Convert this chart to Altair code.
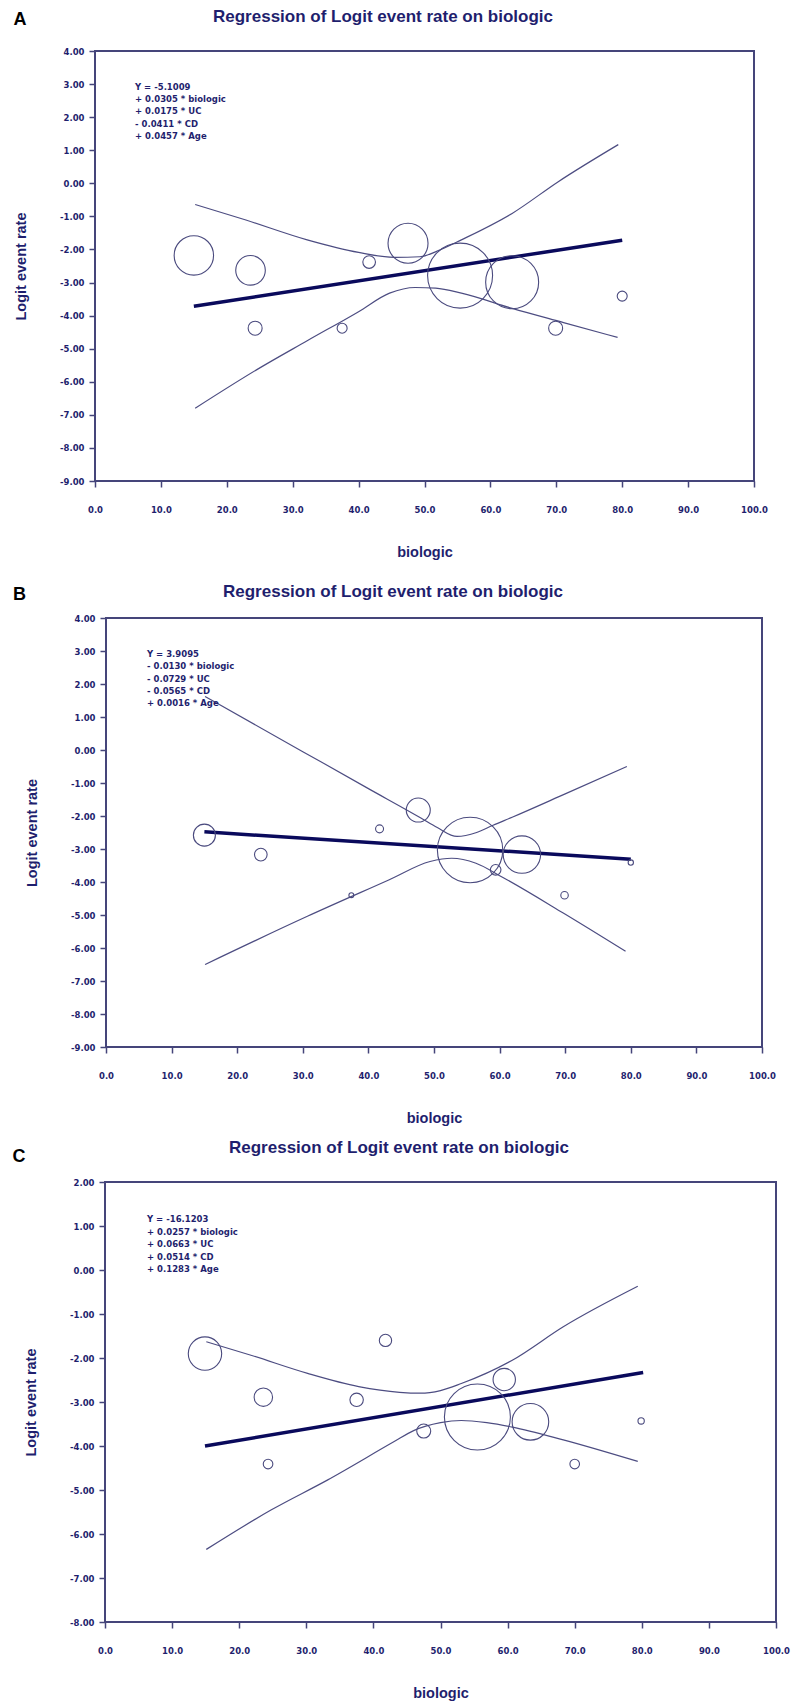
import altair as alt
import pandas as pd

# ---------------- data ----------------
panel_letters = ["A", "B", "C"]
chart_title = "Regression of Logit event rate on biologic"
x_title = "biologic"
y_title = "Logit event rate"
x_ticks = [0, 10, 20, 30, 40, 50, 60, 70, 80, 90, 100]
ab_y_ticks = [-9, -8, -7, -6, -5, -4, -3, -2, -1, 0, 1, 2, 3, 4]
c_y_ticks = [-8, -7, -6, -5, -4, -3, -2, -1, 0, 1, 2]

# Panel A
a_study_x = [15.0, 23.6, 24.3, 37.5, 41.6, 47.5, 55.4, 63.3, 69.9, 80.0]
a_study_y = [-2.18, -2.63, -4.38, -4.38, -2.38, -1.81, -2.79, -2.99, -4.38, -3.41]
a_weight = [38.8, 21.9, 4.9, 2.5, 4.0, 40.0, 105.6, 70.2, 4.9, 2.5]
a_reg_x = [15.0, 80.0]
a_reg_y = [-3.72, -1.72]
a_upper_x = [15.2, 22.9, 32.2, 40.0, 45.5, 49.3, 52.4, 55.6, 63.3, 70.3, 79.4]
a_upper_y = [-0.64, -1.11, -1.71, -2.09, -2.24, -2.22, -2.01, -1.71, -0.91, 0.05, 1.17]
a_lower_x = [15.2, 24.5, 32.2, 40.0, 44.7, 48.6, 51.7, 55.6, 63.3, 71.1, 79.3]
a_lower_y = [-6.80, -5.64, -4.76, -3.88, -3.32, -3.15, -3.17, -3.32, -3.78, -4.21, -4.66]
a_equation = ["Y = -5.1009", "+ 0.0305 * biologic", "+ 0.0175 * UC",
              "- 0.0411 * CD", "+ 0.0457 * Age"]

# Panel B
b_study_x = [15.0, 23.6, 37.4, 41.7, 47.6, 55.5, 59.4, 63.4, 69.9, 80.0]
b_study_y = [-2.58, -3.17, -4.40, -2.39, -1.82, -3.03, -3.63, -3.17, -4.40, -3.41]
b_weight = [12.1, 4.0, 0.6, 1.6, 14.4, 106.9, 2.8, 35.0, 1.4, 0.7]
b_reg_x = [15.0, 80.0]
b_reg_y = [-2.48, -3.31]
b_upper_x = [15.1, 30.0, 40.0, 48.0, 50.5, 53.5, 56.5, 59.0, 62.0, 70.0, 79.4]
b_upper_y = [1.62, -0.05, -1.17, -2.06, -2.35, -2.62, -2.50, -2.28, -2.03, -1.33, -0.50]
b_lower_x = [15.1, 30.7, 43.1, 49.4, 52.7, 56.4, 60.3, 69.7, 79.2]
b_lower_y = [-6.50, -5.04, -3.94, -3.38, -3.28, -3.43, -3.84, -4.94, -6.10]
b_equation = ["Y = 3.9095", "- 0.0130 * biologic", "- 0.0729 * UC",
              "- 0.0565 * CD", "+ 0.0016 * Age"]

# Panel C
c_study_x = [14.9, 23.6, 24.3, 37.5, 41.8, 47.5, 55.5, 59.5, 63.4, 70.0, 79.9]
c_study_y = [-1.90, -2.89, -4.41, -2.95, -1.60, -3.66, -3.34, -2.49, -3.45, -4.41, -3.43]
c_weight = [27.9, 8.5, 2.3, 4.5, 3.8, 4.9, 108.9, 12.5, 33.5, 2.3, 1.0]
c_reg_x = [14.9, 80.2]
c_reg_y = [-4.00, -2.33]
c_upper_x = [15.1, 22.0, 30.2, 37.8, 43.9, 47.0, 50.0, 53.1, 60.7, 68.3, 79.4]
c_upper_y = [-1.63, -1.95, -2.35, -2.65, -2.78, -2.80, -2.74, -2.58, -2.05, -1.29, -0.37]
c_lower_x = [15.1, 24.8, 33.2, 43.1, 46.0, 50.0, 53.1, 56.9, 60.7, 68.3, 79.4]
c_lower_y = [-6.35, -5.45, -4.77, -3.90, -3.65, -3.47, -3.42, -3.47, -3.57, -3.86, -4.35]
c_equation = ["Y = -16.1203", "+ 0.0257 * biologic", "+ 0.0663 * UC",
              "+ 0.0514 * CD", "+ 0.1283 * Age"]

# ---------------- styling / layout ----------------
W, H = 787, 1694
NAVY_TEXT = "#1f1f6e"
FRAME = "#45457a"
CI_COL = "#4d4d82"
CIRC_COL = "#4a4a7e"
REG_COL = "#0a0a5c"
SMALL_FONT = "DejaVu Sans"
BIG_FONT = "Liberation Sans"

one_row = pd.DataFrame({"k": [0]})


def panel(sx, sy, sw, rx, ry, ux, uy, lx, ly, yticks, px, py):
    xs = alt.Scale(domain=[x_ticks[0], x_ticks[-1]], range=px, nice=False, zero=False)
    ys = alt.Scale(domain=[yticks[0], yticks[-1]], range=py, nice=False, zero=False)
    xaxis = alt.Axis(
        orient="bottom", offset=-(H - py[0]), values=x_ticks, grid=False, domain=False,
        tickSize=6, tickWidth=1.5, tickColor=FRAME,
        labelExpr="format(datum.value, '.1f')", labelFont=SMALL_FONT, labelFontSize=8.5,
        labelFontWeight="bold", labelColor=NAVY_TEXT, labelPadding=18, labelFlush=False,
        labelOverlap=False,
        title=x_title, titleFont=BIG_FONT, titleFontSize=14.5, titleFontWeight="bold",
        titleColor=NAVY_TEXT, titleY=71, titleBaseline="middle",
    )
    yaxis = alt.Axis(
        orient="left", offset=-px[0], values=yticks, grid=False, domain=False,
        tickSize=6, tickWidth=1.5, tickColor=FRAME,
        labelExpr="replace(format(datum.value, '.2f'), '\u2212', '-')",
        labelFont=SMALL_FONT, labelFontSize=8.5, labelFontWeight="bold",
        labelColor=NAVY_TEXT, labelPadding=5, labelFlush=False, labelOverlap=False,
        title=y_title, titleFont=BIG_FONT, titleFontSize=14.5, titleFontWeight="bold",
        titleColor=NAVY_TEXT, titleX=-74, titleAngle=270, titleBaseline="middle",
        titleAlign="center",
    )
    X = alt.X("x:Q", scale=xs, axis=xaxis)
    Y = alt.Y("y:Q", scale=ys, axis=yaxis)

    frame_df = pd.DataFrame({"x": [x_ticks[0]], "x2": [x_ticks[-1]],
                             "y": [yticks[0]], "y2": [yticks[-1]]})
    frame = alt.Chart(frame_df).mark_rect(
        fillOpacity=0, stroke=FRAME, strokeWidth=2
    ).encode(x=X, x2="x2", y=Y, y2="y2")

    up = alt.Chart(pd.DataFrame({"x": ux, "y": uy})).mark_line(
        color=CI_COL, strokeWidth=1.2, interpolate="monotone"
    ).encode(x=X, y=Y)
    lo = alt.Chart(pd.DataFrame({"x": lx, "y": ly})).mark_line(
        color=CI_COL, strokeWidth=1.2, interpolate="monotone"
    ).encode(x=X, y=Y)
    reg = alt.Chart(pd.DataFrame({"x": rx, "y": ry})).mark_line(
        color=REG_COL, strokeWidth=3.5
    ).encode(x=X, y=Y)
    pts = alt.Chart(pd.DataFrame({"x": sx, "y": sy, "w": sw})).mark_point(
        shape="circle", filled=False, stroke=CIRC_COL, strokeWidth=1.1, opacity=1
    ).encode(
        x=X, y=Y,
        size=alt.Size("w:Q", scale=alt.Scale(type="linear", domain=[0, 110], range=[0, 4400]),
                      legend=None),
    )
    return alt.layer(frame, up, lo, reg, pts)


pA = panel(a_study_x, a_study_y, a_weight, a_reg_x, a_reg_y, a_upper_x, a_upper_y,
           a_lower_x, a_lower_y, ab_y_ticks, [87, 746], [473, 43])
pB = panel(b_study_x, b_study_y, b_weight, b_reg_x, b_reg_y, b_upper_x, b_upper_y,
           b_lower_x, b_lower_y, ab_y_ticks, [98, 754], [1039, 610])
pC = panel(c_study_x, c_study_y, c_weight, c_reg_x, c_reg_y, c_upper_x, c_upper_y,
           c_lower_x, c_lower_y, c_y_ticks, [97, 768], [1614, 1174])


def txt(text, x, y, size, color, font, align="center", baseline="middle", **kw):
    return alt.Chart(one_row).mark_text(
        text=text, x=x, y=y, fontSize=size, font=font, fontWeight="bold",
        color=color, align=align, baseline=baseline, **kw
    )


texts = [
    txt(panel_letters[0], 12, 11.5, 18, "#000000", BIG_FONT),
    txt(panel_letters[1], 11.5, 587, 18, "#000000", BIG_FONT),
    txt(panel_letters[2], 11, 1149, 18, "#000000", BIG_FONT),
    txt(chart_title, 375, 8.5, 17, NAVY_TEXT, BIG_FONT),
    txt(chart_title, 385, 584, 17, NAVY_TEXT, BIG_FONT),
    txt(chart_title, 391, 1140, 17, NAVY_TEXT, BIG_FONT),
    txt(a_equation, 127, 75, 8.5, NAVY_TEXT, SMALL_FONT, align="left", baseline="top",
        lineHeight=12.2),
    txt(b_equation, 139, 642, 8.5, NAVY_TEXT, SMALL_FONT, align="left", baseline="top",
        lineHeight=12.3),
    txt(c_equation, 139, 1207, 8.5, NAVY_TEXT, SMALL_FONT, align="left", baseline="top",
        lineHeight=12.5),
]

chart = alt.layer(pA, pB, pC, *texts).resolve_scale(
    x="independent", y="independent"
).properties(
    width=W, height=H, padding=0, autosize=alt.AutoSizeParams(type="none")
).configure_view(stroke=None)

chart.save("out.html", embed_options={"renderer": "svg", "actions": False})
